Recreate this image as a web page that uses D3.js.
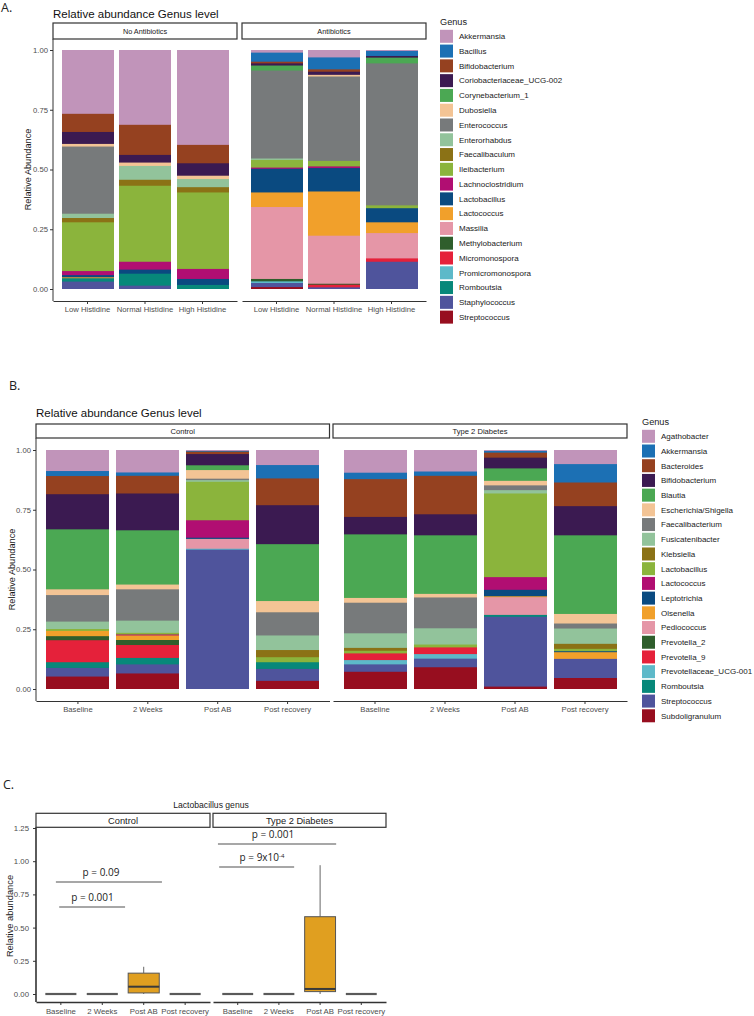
<!DOCTYPE html>
<html><head><meta charset="utf-8">
<script src="https://cdn.jsdelivr.net/npm/d3@7"></script>
<style>
body{margin:0;background:#fff}
svg{display:block}
text{font-family:"Liberation Sans",Arial,sans-serif}
.lbl{font-family:"Open Sans","Noto Sans",sans-serif}
</style>
</head><body>
<svg id="c" width="754" height="1016"></svg>
<script>
// ---------- Panel A data ----------
const genusA = ["Akkermansia","Bacillus","Bifidobacterium","Coriobacteriaceae_UCG-002","Corynebacterium_1","Dubosiella","Enterococcus","Enterorhabdus","Faecalibaculum","Ileibacterium","Lachnoclostridium","Lactobacillus","Lactococcus","Massilia","Methylobacterium","Micromonospora","Promicromonospora","Romboutsia","Staphylococcus","Streptococcus"];
const palette = ["#C194BA","#1C70B4","#954120","#3B1A51","#4BA853","#F3C495","#777A7B","#92C39B","#8B7216","#8BB43C","#B10E72","#0A4A80","#F1A02B","#E596A7","#2F5E2C","#E5213A","#5DB9C9","#07887A","#4F549C","#970E1F"];
const histCats = ["Low Histidine","Normal Histidine","High Histidine"];
const facetsA = ["No Antibiotics","Antibiotics"];
const noAbLow    = [0.267,0,0.076,0.050,0,0.011,0.281,0.018,0.018,0.204,0.017,0.009,0.004,0,0,0,0,0.014,0.031,0];
const noAbNormal = [0.313,0,0.126,0.032,0,0.014,0,0.058,0.025,0.318,0.033,0.017,0,0,0,0,0,0.050,0.014,0];
const noAbHigh   = [0.397,0,0.077,0.052,0,0.014,0,0.034,0.022,0.320,0.042,0.025,0,0,0,0,0,0.017,0,0];
const abLow      = [0.011,0.038,0.007,0.009,0.021,0,0.368,0.006,0,0.032,0.005,0.099,0.061,0.301,0.010,0,0.007,0,0.017,0.008];
const abNormal   = [0.031,0.050,0.010,0.013,0,0.007,0.353,0,0,0.023,0.007,0.098,0.185,0.201,0.004,0.011,0,0,0.007,0];
const abHigh     = [0.004,0.021,0,0.007,0.024,0,0.594,0,0,0.012,0,0.059,0.045,0.106,0,0.014,0,0,0.114,0];

// ---------- Panel B data ----------
const genusB = ["Agathobacter","Akkermansia","Bacteroides","Bifidobacterium","Blautia","Escherichia/Shigella","Faecalibacterium","Fusicatenibacter","Klebsiella","Lactobacillus","Lactococcus","Leptotrichia","Olsenella","Pediococcus","Prevotella_2","Prevotella_9","Prevotellaceae_UCG-001","Romboutsia","Streptococcus","Subdoligranulum"];
const timeCats = ["Baseline","2 Weeks","Post AB","Post recovery"];
const facetsB = ["Control","Type 2 Diabetes"];
const ctrlBaseline = [0.088,0.021,0.076,0.147,0.251,0.024,0.111,0.031,0,0.008,0,0,0.022,0,0.017,0.092,0,0.024,0.036,0.052];
const ctrl2Weeks   = [0.094,0.014,0.074,0.154,0.227,0.020,0.131,0.051,0,0.007,0.004,0,0.019,0,0.021,0.054,0,0.027,0.038,0.065];
const ctrlPostAB   = [0.004,0.003,0.010,0.047,0.020,0.036,0.006,0.007,0,0.161,0.073,0.005,0,0.041,0,0,0.004,0,0.583,0];
const ctrlPostRec  = [0.063,0.056,0.112,0.163,0.238,0.047,0.097,0.061,0.030,0.021,0,0,0,0,0,0,0,0.028,0.050,0.034];
const t2dBaseline  = [0.095,0.027,0.158,0.073,0.266,0.020,0.128,0.061,0.012,0.011,0,0,0,0,0,0.028,0.018,0,0.031,0.072];
const t2d2Weeks    = [0.090,0.018,0.161,0.088,0.245,0.015,0.129,0.068,0,0.012,0,0,0,0,0,0.028,0.019,0,0.036,0.091];
const t2dPostAB    = [0.004,0.007,0.021,0.045,0.052,0.019,0.020,0.014,0,0.350,0.053,0.027,0.004,0.074,0,0,0,0.008,0.292,0.010];
const t2dPostRec   = [0.059,0.077,0.099,0.122,0.329,0.040,0.021,0.064,0.021,0.010,0,0.004,0.028,0,0,0,0,0,0.080,0.046];

const yTicksAB = [0,0.25,0.5,0.75,1];

// ---------- Panel C data (Lactobacillus boxplots) ----------
const ctrlMin = [0,0,0,0],     ctrlQ1 = [0,0,0.008,0], ctrlMed = [0,0,0.055,0], ctrlQ3 = [0,0,0.157,0], ctrlMax = [0,0,0.205,0];
const t2dMin  = [0,0,0,0],     t2dQ1  = [0,0,0.018,0], t2dMed  = [0,0,0.038,0], t2dQ3  = [0,0,0.582,0], t2dMax  = [0,0,0.97,0];
const yTicksC = [0,0.25,0.5,0.75,1,1.25];
const pLabels = ["p = 0.09","p = 0.001","p = 0.001","p = 9x10"];
const pLevels = [0.843,0.655,1.130,0.956];

const svg = d3.select("#c");

function styleAxis(ax, fs){
  ax.selectAll("line").attr("stroke","#333");
  ax.selectAll("path.domain").attr("stroke","#333");
  ax.selectAll("text").attr("fill","#4d4d4d").style("font-size",fs+"px").style("font-family",'"Liberation Sans",Arial,sans-serif');
}

function drawStacked(cfg){
  const g = svg.append("g");
  const y = d3.scaleLinear().domain([0,1]).range([cfg.yZero,cfg.yOne]);
  cfg.facets.forEach((fname,fi)=>{
    const [x0,x1] = cfg.xRanges[fi];
    const x = d3.scaleBand().domain(cfg.cats).range([x0,x1]).paddingInner(0.1).paddingOuter(0.15);
    g.append("rect").attr("x",x0).attr("y",cfg.stripTop).attr("width",x1-x0).attr("height",cfg.stripH)
      .attr("fill","#fff").attr("stroke","#333").attr("stroke-width",1.2);
    g.append("text").attr("x",(x0+x1)/2).attr("y",cfg.stripTop+cfg.stripH/2).attr("dy","0.35em")
      .attr("text-anchor","middle").style("font-size",cfg.stripFs+"px").attr("fill","#1a1a1a").text(fname);
    cfg.samples[fi].forEach((vals,ci)=>{
      const rev = vals.slice().reverse();
      const cum = d3.cumsum(rev);
      const segs = rev.map((v,k)=>({v, top:cum[k], color:cfg.colors[vals.length-1-k]})).filter(s=>s.v>0);
      segs.sort((a,b)=>b.top-a.top);
      const bx = Math.round(x(cfg.cats[ci])), bw = Math.round(x.bandwidth());
      g.append("g").selectAll("rect").data(segs).join("rect")
        .attr("x",bx).attr("width",bw)
        .attr("y",d=>y(Math.min(1,d.top))).attr("height",d=>y(0)-y(Math.min(1,d.top)))
        .attr("fill",d=>d.color);
    });
    const ax = g.append("g").attr("transform",`translate(0,${cfg.axisY})`)
      .call(d3.axisBottom(x).tickSize(3).tickSizeOuter(0).tickPadding(3));
    styleAxis(ax, cfg.tickFs);
  });
  const x0 = cfg.xRanges[0][0];
  const ay = g.append("g").attr("transform",`translate(${x0},0)`)
    .call(d3.axisLeft(y).tickValues(yTicksAB).tickFormat(d3.format(".2f")).tickSize(3).tickSizeOuter(0).tickPadding(2));
  ay.select(".domain").remove();
  styleAxis(ay, cfg.tickFs);
  g.append("line").attr("x1",x0).attr("x2",x0).attr("y1",cfg.stripTop+cfg.stripH).attr("y2",cfg.axisY).attr("stroke","#333");
  g.append("text").attr("transform",`translate(${cfg.yTitleX},${(cfg.yZero+cfg.yOne)/2}) rotate(-90)`)
    .attr("text-anchor","middle").style("font-size","9.2px").attr("fill","#1a1a1a").text("Relative Abundance");
  g.append("text").attr("x",x0).attr("y",cfg.titleY).style("font-size","11.5px").attr("fill","#111").text("Relative abundance Genus level");
  // legend
  const lg = g.append("g");
  lg.append("text").attr("x",cfg.legX).attr("y",cfg.legTitleY).style("font-size","9.2px").attr("fill","#1a1a1a").text("Genus");
  const items = lg.selectAll("g.it").data(cfg.genus).join("g").attr("class","it")
    .attr("transform",(d,i)=>`translate(${cfg.legX},${cfg.legY0+i*cfg.legStep})`);
  items.append("rect").attr("x",0).attr("y",-6.5).attr("width",13).attr("height",13).attr("fill",(d,i)=>cfg.colors[i]);
  items.append("text").attr("x",cfg.legTextDx).attr("y",0).attr("dy","0.35em").style("font-size","8px").attr("fill","#1a1a1a").text(d=>d);
}

// Panel letters
svg.append("text").attr("class","lbl").attr("x",1).attr("y",12).style("font-size","12.5px").attr("fill","#222").text("A.");
svg.append("text").attr("class","lbl").attr("x",9).attr("y",390).style("font-size","12.5px").attr("fill","#222").text("B.");
svg.append("text").attr("class","lbl").attr("x",3).attr("y",789).style("font-size","12.5px").attr("fill","#222").text("C.");

drawStacked({
  facets:facetsA, cats:histCats, genus:genusA, colors:palette,
  samples:[[noAbLow,noAbNormal,noAbHigh],[abLow,abNormal,abHigh]],
  xRanges:[[53,237],[242,426]], yZero:289, yOne:50, axisY:301,
  stripTop:23, stripH:16, stripFs:7.3, tickFs:7.7, yTitleX:30.5, titleY:17.5,
  legX:440, legTitleY:24.5, legY0:36.3, legStep:14.78, legTextDx:19
});

drawStacked({
  facets:facetsB, cats:timeCats, genus:genusB, colors:palette,
  samples:[[ctrlBaseline,ctrl2Weeks,ctrlPostAB,ctrlPostRec],[t2dBaseline,t2d2Weeks,t2dPostAB,t2dPostRec]],
  xRanges:[[36,329.5],[333,627]], yZero:689, yOne:450, axisY:701,
  stripTop:424, stripH:14, stripFs:7.6, tickFs:7.7, yTitleX:14.5, titleY:417,
  legX:642, legTitleY:425, legY0:436.3, legStep:14.71, legTextDx:19
});

// ---------- Panel C ----------
(function(){
  const g = svg.append("g");
  const y = d3.scaleLinear().domain([0,1.25]).range([994,828]);
  const facets = facetsB;
  const xRanges = [[36,210],[213,386]];
  const stats = [
    {min:ctrlMin,q1:ctrlQ1,med:ctrlMed,q3:ctrlQ3,max:ctrlMax},
    {min:t2dMin,q1:t2dQ1,med:t2dMed,q3:t2dQ3,max:t2dMax}
  ];
  const scales = [];
  facets.forEach((fname,fi)=>{
    const [x0,x1] = xRanges[fi];
    const x = d3.scaleBand().domain(timeCats).range([x0,x1]).paddingInner(0.25).paddingOuter(0.225);
    scales.push(x);
    g.append("rect").attr("x",x0).attr("y",813.3).attr("width",x1-x0).attr("height",14)
      .attr("fill","#fff").attr("stroke","#333").attr("stroke-width",1.2);
    g.append("text").attr("x",(x0+x1)/2).attr("y",820.3).attr("dy","0.35em").attr("text-anchor","middle")
      .style("font-size","9.3px").attr("fill","#1a1a1a").text(fname);
    const s = stats[fi];
    timeCats.forEach((c,ci)=>{
      const bx = x(c), bw = x.bandwidth(), cx = bx+bw/2;
      if (s.q3[ci] - s.q1[ci] <= 0) {
        g.append("line").attr("x1",bx).attr("x2",bx+bw).attr("y1",y(s.med[ci])).attr("y2",y(s.med[ci]))
          .attr("stroke","#5a5a5a").attr("stroke-width",2.2);
        return;
      }
      g.append("line").attr("x1",cx).attr("x2",cx).attr("y1",y(s.q3[ci])).attr("y2",y(s.max[ci])).attr("stroke","#666").attr("stroke-width",1);
      g.append("line").attr("x1",cx).attr("x2",cx).attr("y1",y(s.q1[ci])).attr("y2",y(s.min[ci])).attr("stroke","#666").attr("stroke-width",1);
      g.append("rect").attr("x",bx).attr("width",bw).attr("y",y(s.q3[ci])).attr("height",y(s.q1[ci])-y(s.q3[ci]))
        .attr("fill","#E09F20").attr("stroke","#555").attr("stroke-width",1);
      g.append("line").attr("x1",bx).attr("x2",bx+bw).attr("y1",y(s.med[ci])).attr("y2",y(s.med[ci]))
        .attr("stroke","#3a3a3a").attr("stroke-width",2);
    });
    const ax = g.append("g").attr("transform","translate(0,1002)")
      .call(d3.axisBottom(x).tickSize(3).tickSizeOuter(0).tickPadding(3));
    styleAxis(ax, 7.8);
    ax.select(".domain").attr("stroke-width",1.6);
  });
  const ay = g.append("g").attr("transform","translate(36,0)")
    .call(d3.axisLeft(y).tickValues(yTicksC).tickFormat(d3.format(".2f")).tickSize(3).tickSizeOuter(0).tickPadding(4));
  ay.select(".domain").remove();
  styleAxis(ay, 7.8);
  g.append("line").attr("x1",36).attr("x2",36).attr("y1",827.3).attr("y2",1002).attr("stroke","#333").attr("stroke-width",1.6);
  g.append("text").attr("transform","translate(13,916) rotate(-90)").attr("text-anchor","middle")
    .style("font-size","9.3px").attr("fill","#1a1a1a").text("Relative abundance");
  g.append("text").attr("x",211).attr("y",808).attr("text-anchor","middle").style("font-size","8.6px").attr("fill","#1a1a1a").text("Lactobacillus genus");

  // significance brackets (endpoints in category units within each facet)
  const brackets = [
    {f:0, u1:0.48, u2:3.04, tx:101},
    {f:0, u1:0.56, u2:2.15, tx:92.5},
    {f:1, u1:0.12, u2:2.99, tx:273},
    {f:1, u1:0.15, u2:1.97, tx:262}
  ];
  brackets.forEach((b,i)=>{
    const x0 = xRanges[b.f][0], step = scales[b.f].step();
    const ly = y(pLevels[i]);
    g.append("line").attr("x1",x0+b.u1*step).attr("x2",x0+b.u2*step).attr("y1",ly).attr("y2",ly)
      .attr("stroke","#8a8a8a").attr("stroke-width",1.5);
    const t = g.append("text").attr("class","lbl").attr("x",b.tx).attr("y",ly-6).attr("text-anchor","middle")
      .style("font-size","10px").attr("fill","#222").text(pLabels[i]);
    if (i===3) t.append("tspan").attr("dy","-0.45em").style("font-size","6px").text("-4");
  });
})();
</script>
</body></html>
